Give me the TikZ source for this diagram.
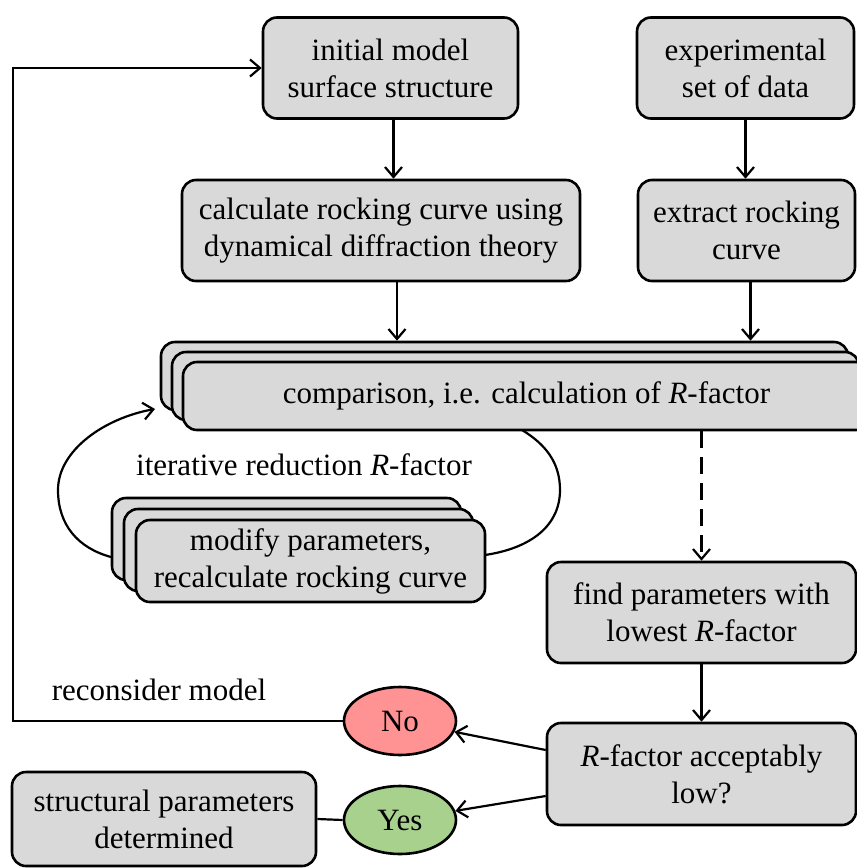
\documentclass[tikz,border=0pt]{standalone}
\usepackage{fontspec}
\setmainfont{Liberation Serif}
\usetikzlibrary{arrows.meta,shapes.geometric}
\definecolor{boxgray}{RGB}{217,217,217}
\definecolor{nored}{RGB}{255,147,147}
\definecolor{yesgreen}{RGB}{169,209,142}
\begin{document}
\begin{tikzpicture}[x=1pt,y=-1pt,
  box/.style={draw,line width=2.6pt,fill=boxgray,rounded corners=14pt,align=center,inner sep=0pt,font=\fontsize{31}{37}\selectfont},
  oval/.style={draw,ellipse,line width=2.6pt,minimum width=112pt,minimum height=68pt,inner sep=0pt,font=\fontsize{31}{37}\selectfont},
  conn/.style={line width=2.2pt,-{Straight Barb[length=10pt,width=17pt]}},
  plain/.style={line width=2.2pt},
  lbl/.style={inner sep=0pt,font=\fontsize{31}{37}\selectfont}]
\useasboundingbox (0,0) rectangle (857,868);

% top row
\node[box,minimum width=255pt,minimum height=101pt] (init) at (390.5,68) {initial model\\surface structure};
\node[box,minimum width=217pt,minimum height=101pt] (exper) at (745.5,68) {experimental\\set of data};
\node[box,minimum width=398pt,minimum height=101pt] (calc) at (381,230.5) {calculate rocking curve using\\dynamical diffraction theory};
\node[box,minimum width=217pt,minimum height=101pt] (extr) at (746.5,230.5) {extract rocking\\curve};

% comparison stack
\node[box,minimum width=687pt,minimum height=68pt] (cmp2) at (504.5,376) {};
\node[box,minimum width=687pt,minimum height=68pt] (cmp1) at (515.5,386) {};
\node[box,minimum width=687pt,minimum height=68pt] (cmp) at (526.5,396) {comparison, i.e. calculation of \textit{R}-factor};

% modify stack
\node[box,minimum width=349pt,minimum height=82pt] (mod2) at (286.5,539) {};
\node[box,minimum width=349pt,minimum height=82pt] (mod1) at (298.5,550) {};
\node[box,minimum width=349pt,minimum height=82pt] (mod) at (310.5,561) {modify parameters,\\recalculate rocking curve};

\node[lbl] (iter) at (304,465) {iterative reduction \textit{R}-factor};

% right column
\node[box,minimum width=309pt,minimum height=101pt] (find) at (701.5,612.5) {find parameters with\\lowest \textit{R}-factor};
\node[box,minimum width=309pt,minimum height=102pt] (rfac) at (701.5,774) {\textit{R}-factor acceptably\\low?};

\node[oval,fill=nored] (no) at (400,721) {No};
\node[oval,fill=yesgreen] (yes) at (400,820) {Yes};
\node[box,minimum width=304pt,minimum height=94pt] (struct) at (164,819) {structural parameters\\determined};
\node[lbl] (recon) at (159,690) {reconsider model};

% connectors
\draw[conn] ([xshift=3pt]init.south) -- ([xshift=3pt]init.south |- calc.north);
\draw[conn] (exper.south) -- (exper.south |- extr.north);
\draw[conn] ([xshift=16pt]calc.south) -- ([xshift=16pt]calc.south |- cmp2.north);
\draw[conn] ([xshift=4pt]extr.south) -- ([xshift=4pt]extr.south |- cmp2.north);
\draw[conn,dash pattern=on 17pt off 9pt] (find.north |- cmp.south) -- (find.north);
\draw[conn] (find.south) -- (rfac.north);
\draw[conn] ([yshift=24pt]rfac.west) -- (no);
\draw[conn] ([yshift=-22pt]rfac.west) -- (yes);
\draw[plain] (struct.east) -- (yes.west);
\coordinate (lp) at (13,721);
\draw[conn] (no.west) -- (lp) |- (init.west);

% iteration loop
\coordinate (la) at (111,557);
\coordinate (lb) at (58,490);
\coordinate (lc) at (155,409);
\draw[conn] (la) .. controls (78,548) and (58,525) .. (lb) .. controls (58,450) and (105,418) .. (lc);
\coordinate (ra) at (485,555);
\coordinate (rb) at (560,490);
\coordinate (rc) at (522,430);
\draw[plain] (ra) .. controls (532,548) and (560,525) .. (rb) .. controls (560,462) and (545,444) .. (rc);
\end{tikzpicture}
\end{document}
